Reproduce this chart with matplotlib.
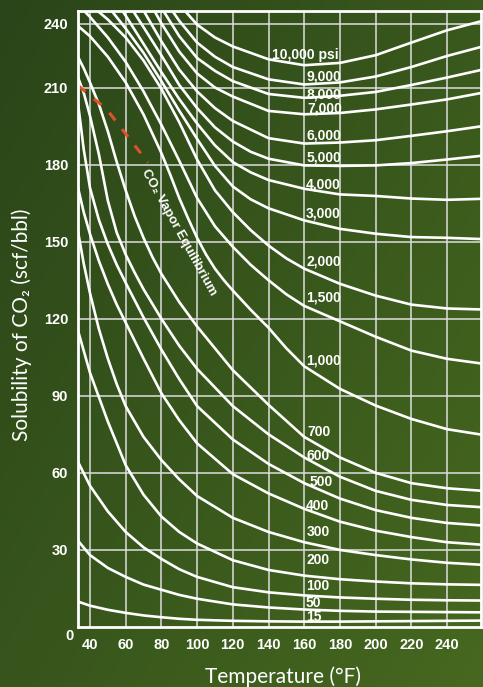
import numpy as np
import matplotlib.pyplot as plt
from matplotlib.colors import LinearSegmentedColormap

# axis ranges and ticks
T_MIN, T_MAX = 33.3, 259.0
S_MIN, S_MAX = 0, 240
TEMP_TICKS = [40, 60, 80, 100, 120, 140, 160, 180, 200, 220, 240]
SOL_TICKS = [30, 60, 90, 120, 150, 180, 210]
TOP_RULE = 234.8

# isobars: temperature (F) and solubility (scf/bbl)
T_15 = [33.3, 40, 50, 60, 70, 80, 90, 100, 120, 140, 160, 180, 200, 220, 240, 260]
S_15 = [9.9, 8.3, 6.7, 5.5, 4.5, 3.8, 3.2, 2.8, 2.4, 2.2, 2.1, 2.1, 2.2, 2.3, 2.4, 2.5]
T_50 = [33.3, 40, 50, 60, 70, 80, 90, 100, 120, 140, 160, 180, 200, 220, 240, 260]
S_50 = [33.6, 28, 23, 19.5, 16.5, 14.5, 12.5, 11, 8.8, 7.6, 6.8, 6.3, 6.0, 5.9, 5.8, 5.7]
T_100 = [33.3, 40, 50, 60, 70, 80, 90, 100, 120, 140, 160, 180, 200, 220, 240, 260]
S_100 = [64.3, 55, 45, 37, 31, 26.5, 22.5, 19.5, 15.5, 13.5, 12.3, 11.5, 11, 10.6, 10.4, 10.3]
T_200 = [33.3, 40, 50, 60, 70, 80, 90, 100, 120, 140, 160, 180, 200, 220, 240, 260]
S_200 = [115.4, 99, 80, 63, 51.5, 43, 37, 32.5, 26, 22.2, 20, 18.6, 17.7, 17, 16.6, 16.4]
T_300 = [33.3, 36.5, 40, 45, 50, 55, 60, 70, 80, 90, 100, 120, 140, 160, 180, 200, 220, 240, 260]
S_300 = [154, 141.5, 130, 116, 104.5, 94.5, 86, 74, 65, 57.5, 51, 42.5, 37, 33, 30, 28, 26.3, 25, 24.2]
T_400 = [33.3, 36.5, 40, 45, 50, 55, 60, 70, 80, 90, 100, 120, 140, 160, 180, 200, 220, 240, 260]
S_400 = [171, 161.5, 153, 142.5, 133.5, 125.5, 118.5, 104.5, 91, 80.5, 71.5, 59.5, 52, 46, 41, 37.5, 35, 33, 32]
T_500 = [33.3, 36.5, 40, 45, 50, 55, 60, 70, 80, 90, 100, 120, 140, 160, 180, 200, 220, 240, 260]
S_500 = [204, 186, 171, 158.5, 149, 141, 134, 120.5, 108, 96.5, 86, 73, 63.5, 56, 50, 45.5, 42.5, 40.5, 39.5]
T_600 = [33.3, 36.5, 40, 45, 50, 55, 60, 65, 70, 80, 90, 100, 120, 140, 160, 180, 200, 220, 240, 260]
S_600 = [214, 208, 199, 184, 166, 153.5, 145, 138, 131.5, 120, 109.5, 100.5, 86, 75, 66, 58.5, 53, 49.5, 47.5, 46.6]
T_700 = [33.3, 36.5, 40, 45, 50, 55, 60, 65, 70, 75, 80, 90, 100, 110, 120, 140, 160, 180, 200, 220, 240, 260]
S_700 = [222, 217.5, 212, 203.5, 193, 181, 170, 160, 151.5, 144, 137.5, 126.5, 117, 108.5, 100, 86.5, 74, 66, 60, 56, 54, 53]
T_1000 = [33.3, 40, 50, 60, 70, 80, 85, 90, 95, 100, 105, 110, 115, 120, 130, 140, 150, 160, 180, 200, 220, 240, 260]
S_1000 = [234, 230, 222, 212, 199.5, 184.5, 176, 167, 159, 151.5, 145, 139.5, 135, 131, 123.5, 116.5, 108.5, 101.5, 92.7, 86.2, 81, 77, 74.8]
T_1500 = [36.5, 40, 50, 60, 70, 80, 90, 100, 110, 120, 130, 140, 150, 160, 180, 200, 220, 240, 260]
S_1500 = [240, 237.5, 229.5, 220, 208.5, 195.5, 181.5, 167, 156, 148, 141, 135, 129.5, 125, 119, 113, 107.6, 104.4, 102.5]
T_2000 = [44, 50, 60, 70, 80, 90, 100, 110, 120, 130, 140, 150, 160, 180, 200, 220, 240, 260]
S_2000 = [240, 236.5, 229.5, 220.5, 209.5, 196.5, 182, 170, 161.5, 154.5, 148.5, 143.5, 139.5, 133.6, 129, 125.5, 124, 123.6]
T_3000 = [52, 60, 70, 80, 90, 100, 110, 120, 130, 140, 160, 180, 200, 220, 240, 260]
S_3000 = [240, 233, 223.5, 212.5, 201, 190, 179.5, 171.5, 166.5, 163, 158.3, 155, 153.1, 151.8, 151.5, 151]
T_4000 = [58, 60, 70, 80, 90, 100, 110, 120, 130, 140, 160, 180, 200, 220, 240, 260]
S_4000 = [240, 238, 227, 216, 205.5, 196, 187.5, 181, 177, 174, 170.6, 168.4, 167.8, 166.8, 166.3, 166.7]
T_5000 = [64, 70, 80, 90, 100, 110, 120, 130, 140, 160, 180, 200, 220, 240, 260]
S_5000 = [240, 233.5, 222.5, 211, 202, 194.5, 189, 185, 182.3, 179.7, 179.5, 179.7, 180.6, 182, 183.5]
T_6000 = [70, 80, 90, 100, 110, 120, 140, 160, 180, 200, 220, 240, 260]
S_6000 = [240, 228, 217, 208.5, 202, 197, 190.3, 188.2, 188.6, 189.5, 191.2, 193, 195]
T_7000 = [76, 80, 90, 100, 110, 120, 140, 160, 180, 200, 220, 240, 260]
S_7000 = [240, 235, 224, 215.5, 210, 206.5, 200.9, 199.6, 200.1, 201.5, 203.4, 205.4, 208]
T_8000 = [81, 90, 100, 110, 120, 140, 160, 180, 200, 220, 240, 260]
S_8000 = [240, 230, 221.5, 216.5, 212.5, 207.5, 206, 206.8, 208.3, 211, 213.9, 217]
T_9000 = [86, 90, 100, 110, 120, 140, 160, 180, 200, 220, 240, 260]
S_9000 = [240, 236, 227.5, 222, 218, 213.2, 211.2, 212, 214.3, 218, 222.3, 226]
T_10000 = [93, 100, 110, 120, 140, 160, 180, 200, 220, 240, 260]
S_10000 = [240, 234.5, 229.5, 226, 221, 218.7, 219.6, 222.6, 227.5, 232.3, 236]

# CO2 vapor equilibrium boundary
T_VAPOR = [33.3, 49.4, 72.5]
S_VAPOR = [210.8, 201.5, 180.8]

ISOBARS = [
    (T_15, S_15), (T_50, S_50), (T_100, S_100), (T_200, S_200),
    (T_300, S_300), (T_400, S_400), (T_500, S_500), (T_600, S_600),
    (T_700, S_700), (T_1000, S_1000), (T_1500, S_1500), (T_2000, S_2000),
    (T_3000, S_3000), (T_4000, S_4000), (T_5000, S_5000), (T_6000, S_6000),
    (T_7000, S_7000), (T_8000, S_8000), (T_9000, S_9000), (T_10000, S_10000),
]

# pressure labels and where they sit (T, S)
PRESSURE_LABELS = ["15", "50", "100", "200", "300", "400", "500", "600", "700",
                   "1,000", "1,500", "2,000", "3,000", "4,000", "5,000", "6,000",
                   "7,000", "8,000", "9,000", "10,000 psi"]
LABEL_T = [161, 161, 161, 161, 161.5, 161, 163, 161, 161.5,
           161, 161, 161, 161, 161, 161.5, 161.5, 161.5, 161, 161, 142]
LABEL_S = [3.7, 9.5, 16.0, 26.1, 36.9, 47.1, 56.5, 66.6, 75.9,
           103.7, 128.3, 142.3, 161.0, 172.3, 182.8, 191.4, 201.9, 207.3, 214.3, 222.8]

BOLD = ["Liberation Sans", "DejaVu Sans"]
THIN = ["Lato", "DejaVu Sans"]

fig = plt.figure(figsize=(4.83, 6.87), dpi=100)

# green gradient backdrop
bg = fig.add_axes([0, 0, 1, 1], zorder=-5)
yy, xx = np.mgrid[0:1:300j, 0:1:300j]
shade = 0.55 * xx + 0.45 * yy
cmap = LinearSegmentedColormap.from_list("board", ["#2a4519", "#46681f"])
bg.imshow(shade, cmap=cmap, aspect="auto", extent=[0, 1, 0, 1], origin="upper")
bg.axis("off")

ax = fig.add_axes([78 / 483, 60 / 687, 403 / 483, 616.5 / 687])
ax.patch.set_alpha(0)
ax.set_xlim(T_MIN, T_MAX)
ax.set_ylim(S_MIN, S_MAX)

grid_kw = dict(color="#dedede", lw=1.1, zorder=1)
for t in TEMP_TICKS + [260]:
    ax.axvline(t, **grid_kw)
for s in SOL_TICKS + [TOP_RULE]:
    ax.axhline(s, **grid_kw)

for temps, sols in ISOBARS:
    ax.plot(temps, sols, color="white", lw=1.9, solid_joinstyle="round",
            solid_capstyle="round", zorder=3)

ax.plot(T_VAPOR, S_VAPOR, color="#e0502c", lw=2.2, dashes=(3.2, 3.6), zorder=4)

ax.text(89.5, 153.5, "CO\u2082 Vapor Equilibrium", color="white", fontsize=9.5,
        family=BOLD, fontweight="bold", rotation=-61, rotation_mode="anchor",
        ha="center", va="center", zorder=5)

for label, t, s in zip(PRESSURE_LABELS, LABEL_T, LABEL_S):
    ax.text(t, s, label, color="white", fontsize=10, family=BOLD,
            fontweight="bold", ha="left", va="center", zorder=5)

for side in ax.spines.values():
    side.set_color("white")
    side.set_linewidth(2.0)
    side.set_zorder(6)

ax.set_xticks(TEMP_TICKS)
ax.set_xticklabels([str(t) for t in TEMP_TICKS])
ax.set_yticks(SOL_TICKS + [TOP_RULE])
ax.set_yticklabels([str(s) for s in SOL_TICKS] + ["240"])
ax.tick_params(length=0, colors="white", labelsize=10.5)
ax.tick_params(axis="x", pad=8)
ax.tick_params(axis="y", pad=7.0)
for lbl in ax.get_xticklabels() + ax.get_yticklabels():
    lbl.set_family(BOLD)
    lbl.set_fontweight("bold")

ax.annotate("0", xy=(T_MIN, 0), xytext=(-3, -6.5), textcoords="offset points",
            color="white", fontsize=10.5, family=BOLD, fontweight="bold",
            ha="right", va="center")

fig.text(283 / 483, 1 - 677 / 687, "Temperature (\u00b0F)", color="white",
         fontsize=15, family=THIN, ha="center", va="center")
fig.text(22 / 483, 1 - 325 / 687, "Solubility of CO\u2082 (scf/bbl)", color="white",
         fontsize=15, family=THIN, rotation=90, ha="center", va="center")

fig.savefig("out.png", dpi=100)
